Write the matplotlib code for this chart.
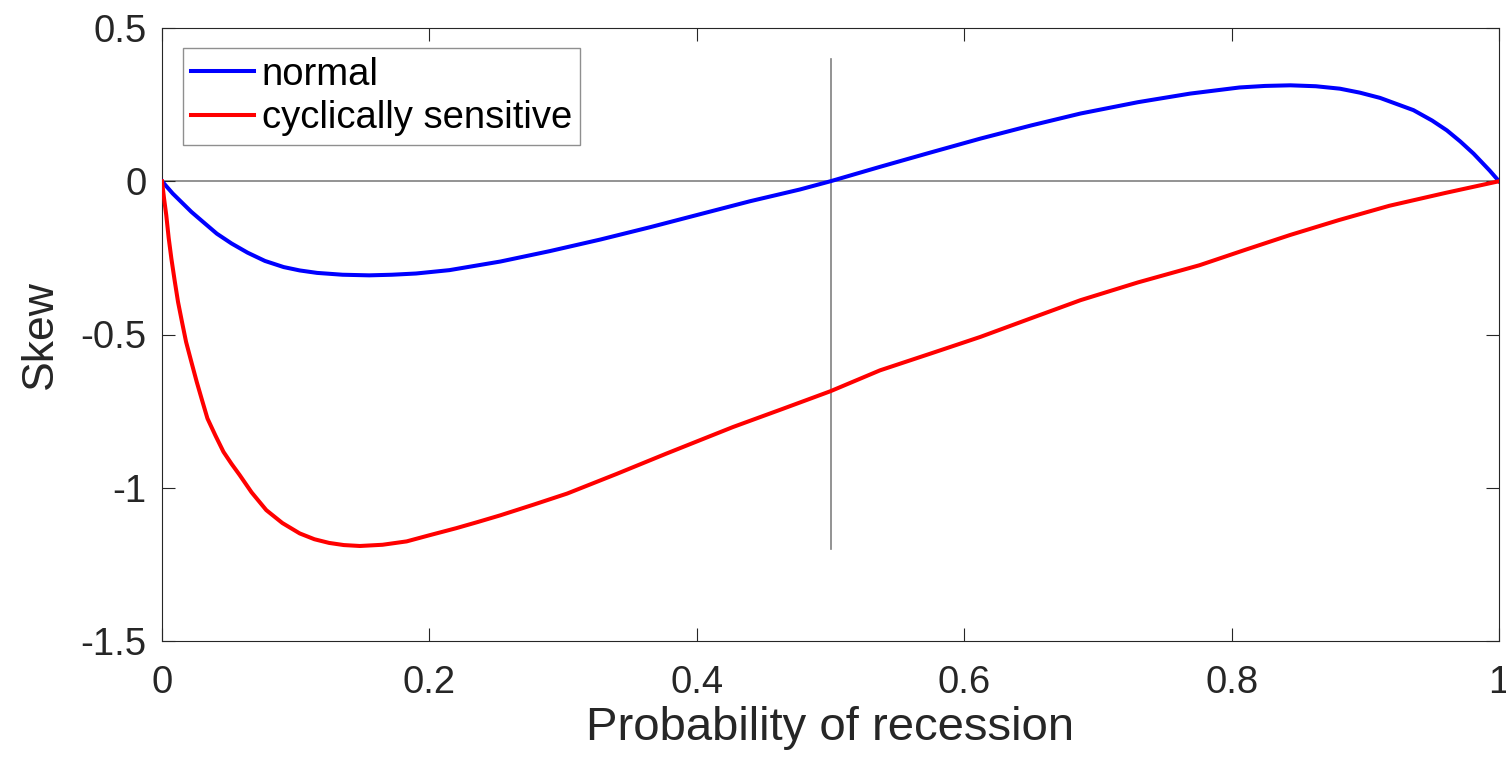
import matplotlib
matplotlib.use("Agg")
import matplotlib.pyplot as plt

# values
p_normal = [0, 0.008, 0.022, 0.03, 0.041, 0.052, 0.064, 0.077, 0.091, 0.103,
            0.116, 0.135, 0.155, 0.172, 0.19, 0.215, 0.253, 0.29, 0.328, 0.365,
            0.402, 0.44, 0.477, 0.5, 0.537, 0.575, 0.612, 0.65, 0.687, 0.73,
            0.769, 0.806, 0.825, 0.844, 0.863, 0.881, 0.896, 0.911, 0.936, 0.95,
            0.961, 0.971, 0.981, 0.993, 1.0]
skew_normal = [0, -0.040, -0.100, -0.130, -0.171, -0.203, -0.233, -0.260, -0.280, -0.291,
               -0.299, -0.305, -0.307, -0.305, -0.301, -0.290, -0.262, -0.228, -0.190, -0.150,
               -0.108, -0.065, -0.027, 0.0, 0.047, 0.094, 0.139, 0.182, 0.221, 0.258,
               0.286, 0.306, 0.311, 0.313, 0.310, 0.302, 0.289, 0.272, 0.232, 0.198,
               0.166, 0.130, 0.090, 0.035, 0]

p_cyc = [0, 0.0015, 0.0032, 0.005, 0.007, 0.0095, 0.012, 0.015, 0.018, 0.022,
         0.026, 0.03, 0.034, 0.04, 0.046, 0.052, 0.058, 0.067, 0.078, 0.09,
         0.103, 0.114, 0.125, 0.136, 0.148, 0.165, 0.183, 0.2, 0.22, 0.236,
         0.253, 0.278, 0.303, 0.34, 0.377, 0.427, 0.464, 0.5, 0.537, 0.575,
         0.612, 0.65, 0.687, 0.73, 0.776, 0.81, 0.844, 0.88, 0.918, 0.96, 1.0]
skew_cyc = [0, -0.055, -0.111, -0.185, -0.252, -0.325, -0.394, -0.460, -0.524, -0.590,
            -0.655, -0.715, -0.774, -0.830, -0.883, -0.922, -0.958, -1.015, -1.073, -1.115,
            -1.149, -1.168, -1.180, -1.187, -1.190, -1.186, -1.175, -1.155, -1.132, -1.112,
            -1.090, -1.055, -1.019, -0.955, -0.889, -0.802, -0.743, -0.685, -0.617, -0.562,
            -0.508, -0.447, -0.388, -0.330, -0.274, -0.224, -0.175, -0.127, -0.080, -0.038, 0]

xticks = [0, 0.2, 0.4, 0.6, 0.8, 1]
xticklabels = ["0", "0.2", "0.4", "0.6", "0.8", "1"]
yticks = [-1.5, -1, -0.5, 0, 0.5]
yticklabels = ["-1.5", "-1", "-0.5", "0", "0.5"]

plt.rcParams['font.family'] = ['Liberation Sans', 'DejaVu Sans']
dark = '#262626'

fig = plt.figure(figsize=(15.06, 7.62), dpi=100)
ax = fig.add_axes([162 / 1506, 1 - 641 / 762, 1337 / 1506, 613 / 762])

# reference lines
ax.plot([0, 1], [0, 0], color='0.5', lw=1.2, zorder=1)
ax.plot([0.5, 0.5], [-1.2, 0.4], color='0.5', lw=1.2, zorder=1)

ax.plot(p_normal, skew_normal, color='#0000ff', lw=2.9, label='normal',
        solid_joinstyle='round', zorder=3)
ax.plot(p_cyc, skew_cyc, color='#ff0000', lw=2.9, label='cyclically sensitive',
        solid_joinstyle='round', zorder=3)

ax.set_xlim(0, 1)
ax.set_ylim(-1.5, 0.5)
ax.set_xticks(xticks)
ax.set_xticklabels(xticklabels)
ax.set_yticks(yticks)
ax.set_yticklabels(yticklabels)

for s in ax.spines.values():
    s.set_color(dark)
    s.set_linewidth(0.8)
ax.tick_params(direction='in', length=9.5, width=0.8, color=dark,
               labelcolor=dark, labelsize=27.5, top=True, right=True)
ax.tick_params(axis='x', pad=17)
ax.tick_params(axis='y', pad=11)

ax.set_xlabel('Probability of recession', fontsize=34, color=dark, labelpad=4)
ax.set_ylabel('Skew', fontsize=32, color=dark, labelpad=14)

leg = ax.legend(loc='upper left', bbox_to_anchor=(0.0155, 0.967), borderaxespad=0,
                fontsize=27.5, fancybox=False, frameon=True, handlelength=1.65,
                handletextpad=0.2, borderpad=0.22, labelspacing=0.2)
leg.get_frame().set_edgecolor('0.45')
leg.get_frame().set_linewidth(1.0)
for t in leg.get_texts():
    t.set_color('black')

fig.savefig('out.png', dpi=100)
